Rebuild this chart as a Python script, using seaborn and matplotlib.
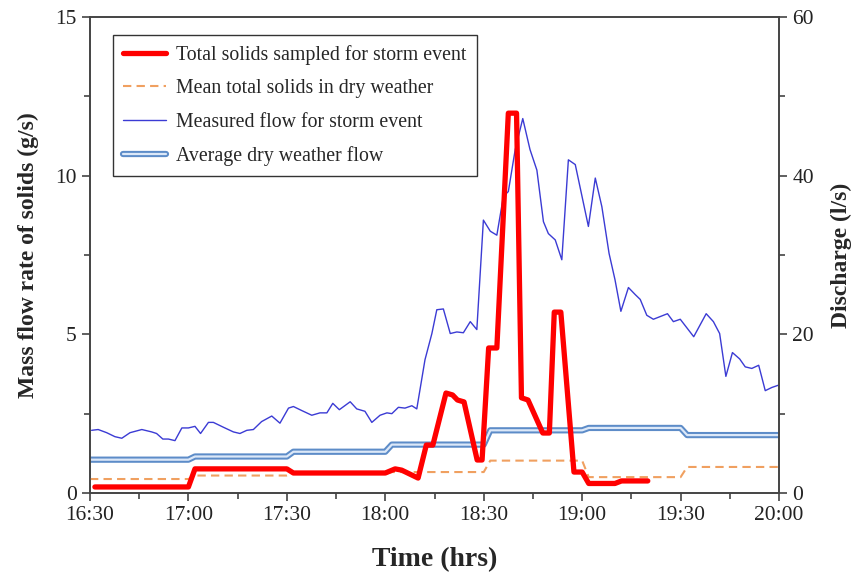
import pandas as pd
import matplotlib.pyplot as plt
import matplotlib.patheffects as pe
from matplotlib.ticker import MultipleLocator, FixedLocator
import seaborn as sns

# ---------------------------------------------------------
# Data (time in minutes after 16:30)
# ---------------------------------------------------------
solids_t = [1.5, 30, 32, 60, 62, 90, 93, 95, 100, 102.5, 104.5, 108.5, 110.5, 112, 114,
            118, 119.5, 121.5, 124, 127.5, 130, 131.5, 133.5, 138, 140, 141.5, 143.5,
            147.5, 150, 152, 160, 162, 170]
solids_v = [0.19, 0.19, 0.76, 0.76, 0.63, 0.63, 0.76, 0.72, 0.47, 1.51, 1.51, 3.15, 3.09, 2.93, 2.87,
            1.04, 1.04, 4.57, 4.57, 11.97, 11.97, 3.0, 2.93, 1.89, 1.89, 5.7, 5.7,
            0.66, 0.66, 0.3, 0.3, 0.38, 0.38]

dry_solids_t = [0, 30, 32, 60, 62, 90, 92, 120, 122, 150, 152, 180, 182, 210]
dry_solids_v = [0.44, 0.44, 0.55, 0.55, 0.60, 0.60, 0.66, 0.66, 1.02, 1.02, 0.50, 0.50, 0.82, 0.82]

flow_t = [0.5, 2.5, 5.1, 7.6, 9.7, 12.2, 15.8, 18.8, 20.3, 22.2, 23.9, 25.9, 28.0, 30.0, 32.0,
          33.7, 36.1, 37.6, 40.6, 43.7, 45.7, 47.8, 49.8, 52.3, 55.4, 57.9, 60.5, 62.0, 64.5,
          67.6, 70.1, 72.2, 74.0, 76.0, 79.3, 81.3, 83.8, 85.9, 88.4, 90.5, 92.0, 94.0, 96.0,
          98.1, 99.6, 102.1, 104.2, 105.7, 107.7, 109.8, 111.8, 113.8, 115.9, 117.9, 119.9,
          122.0, 124.0, 126.0, 127.5, 129.6, 131.9, 134.1, 136.2, 138.2, 139.7, 141.8, 143.8,
          145.8, 147.9, 151.9, 154.0, 156.0, 158.2, 160.0, 161.8, 164.1, 166.2, 167.7, 169.7,
          171.7, 176.0, 177.8, 179.9, 184.0, 187.8, 190.0, 191.9, 193.8, 195.8, 198.0, 199.7,
          201.7, 203.8, 205.8, 207.8, 209.9]
flow_v = [7.9, 8.0, 7.6, 7.1, 6.9, 7.6, 8.0, 7.7, 7.5, 6.8, 6.8, 6.6, 8.2, 8.2, 8.4,
          7.5, 8.9, 8.9, 8.3, 7.7, 7.5, 7.9, 8.0, 9.0, 9.7, 8.8, 10.7, 10.9, 10.4,
          9.8, 10.1, 10.1, 11.3, 10.5, 11.5, 10.6, 10.3, 8.9, 9.8, 10.1, 10.0, 10.8, 10.7,
          11.0, 10.6, 16.8, 20.1, 23.1, 23.2, 20.1, 20.3, 20.2, 21.6, 20.6, 34.4,
          33.0, 32.5, 37.4, 38.0, 43.3, 47.2, 43.3, 40.7, 34.2, 32.7, 31.9, 29.4,
          42.0, 41.4, 33.6, 39.7, 36.1, 30.2, 26.9, 22.9, 25.9, 25.0, 24.4, 22.4,
          21.9, 22.6, 21.6, 21.9, 19.7, 22.6, 21.6, 20.1, 14.7, 17.7, 16.9, 15.9,
          15.7, 16.1, 12.9, 13.3, 13.6]

dry_flow_t = [0, 30, 32, 60, 62, 90, 92, 120, 122, 150, 152, 180, 182, 210]
dry_flow_v = [4.2, 4.2, 4.6, 4.6, 5.2, 5.2, 6.1, 6.1, 7.9, 7.9, 8.2, 8.2, 7.3, 7.3]

tick_minutes = [0, 30, 60, 90, 120, 150, 180, 210]
tick_labels = ["16:30", "17:00", "17:30", "18:00", "18:30", "19:00", "19:30", "20:00"]

solids = pd.DataFrame({"t": solids_t, "v": solids_v})
dry_solids = pd.DataFrame({"t": dry_solids_t, "v": dry_solids_v})
flow = pd.DataFrame({"t": flow_t, "v": flow_v})
dry_flow = pd.DataFrame({"t": dry_flow_t, "v": dry_flow_v})

# ---------------------------------------------------------
# Style
# ---------------------------------------------------------
sns.set_style("ticks")
plt.rcParams["font.family"] = ["Liberation Serif", "DejaVu Serif"]
plt.rcParams["axes.edgecolor"] = "#444444"
plt.rcParams["axes.linewidth"] = 1.2
plt.rcParams["xtick.color"] = "#444444"
plt.rcParams["ytick.color"] = "#444444"
plt.rcParams["xtick.labelcolor"] = "#222222"
plt.rcParams["ytick.labelcolor"] = "#222222"

fig = plt.figure(figsize=(8.61, 5.77), dpi=100)
ax = fig.add_axes([0.1045, 0.1456, 0.8003, 0.8249])
ax2 = ax.twinx()
ax.set_zorder(ax2.get_zorder() + 1)
ax.patch.set_visible(False)

# Right axis: flows
sns.lineplot(data=dry_flow, x="t", y="v", ax=ax2, color="#dce8f8", linewidth=1.6,
             estimator=None, sort=False,
             path_effects=[pe.Stroke(linewidth=4.5, foreground="#5d8cc8"), pe.Normal()])
sns.lineplot(data=flow, x="t", y="v", ax=ax2, color="#3b3bd4", linewidth=1.0,
             estimator=None, sort=False)

# Left axis: solids
sns.lineplot(data=dry_solids, x="t", y="v", ax=ax, color="#f0a060", linewidth=1.5,
             linestyle=(0, (4, 2.5)), estimator=None, sort=False)
sns.lineplot(data=solids, x="t", y="v", ax=ax, color="#ff0000", linewidth=3.8,
             estimator=None, sort=False)

# Axes limits and ticks
ax.set_xlim(0, 210)
ax.set_ylim(0, 15)
ax2.set_ylim(0, 60)
ax.xaxis.set_major_locator(FixedLocator(tick_minutes))
ax.set_xticklabels(tick_labels)
ax.xaxis.set_minor_locator(MultipleLocator(15))
ax.yaxis.set_major_locator(MultipleLocator(5))
ax.yaxis.set_minor_locator(MultipleLocator(2.5))
ax2.yaxis.set_major_locator(MultipleLocator(20))
ax2.yaxis.set_minor_locator(MultipleLocator(10))
for a in (ax, ax2):
    a.tick_params(which="major", direction="out", length=6, width=1.2, labelsize=15.5)
    a.tick_params(which="minor", direction="out", length=4, width=1.2)

ax.set_xlabel("Time (hrs)", fontsize=20, fontweight="bold", labelpad=16)
ax.set_ylabel("Mass flow rate of solids (g/s)", fontsize=17, fontweight="bold", labelpad=12)
ax2.set_ylabel("Discharge (l/s)", fontsize=17, fontweight="bold", labelpad=12)

# Legend
handles = [ax.lines[1], ax.lines[0], ax2.lines[1], ax2.lines[0]]
labels = ["Total solids sampled for storm event", "Mean total solids in dry weather",
          "Measured flow for storm event", "Average dry weather flow"]
leg = ax.legend(handles, labels, loc="upper left", bbox_to_anchor=(0.033, 0.962),
                borderaxespad=0, fontsize=14.3, frameon=True, fancybox=False,
                edgecolor="#333333", framealpha=1, handlelength=2.2,
                labelspacing=0.72, borderpad=0.5, handletextpad=0.5)
leg.get_frame().set_linewidth(1.0)

fig.savefig("out.png", dpi=100)
